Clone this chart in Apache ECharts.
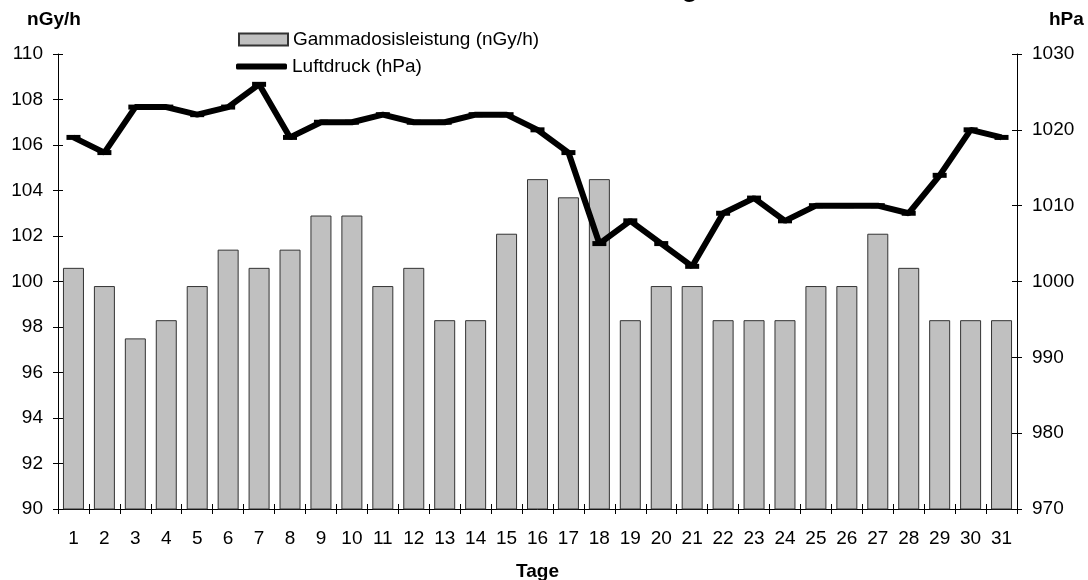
<!DOCTYPE html>
<html>
<head>
<meta charset="utf-8">
<script src="https://cdn.jsdelivr.net/npm/echarts@6/dist/echarts.min.js"></script>
<style>
  html, body { margin: 0; padding: 0; background: #fff; }
  #chart { width: 1088px; height: 580px; }
</style>
</head>
<body>
<div id="chart"></div>
<script>
const days = ['1','2','3','4','5','6','7','8','9','10','11','12','13','14','15','16',
  '17','18','19','20','21','22','23','24','25','26','27','28','29','30','31']

// nGy/h
const gamma = [100.6, 99.8, 97.5, 98.3, 99.8, 101.4, 100.6, 101.4, 102.9, 102.9, 99.8,
  100.6, 98.3, 98.3, 102.1, 104.5, 103.7, 104.5, 98.3, 99.8, 99.8, 98.3, 98.3, 98.3,
  99.8, 99.8, 102.1, 100.6, 98.3, 98.3, 98.3]

// hPa
const pressure = [1019, 1017, 1023, 1023, 1022, 1023, 1026, 1019, 1021, 1021,
  1022, 1021, 1021, 1022, 1022, 1020, 1017, 1005, 1008, 1005, 1002, 1009, 1011, 1008,
  1010, 1010, 1010, 1009, 1014, 1020, 1019]

const gammaTicks = { min: 90, max: 110, interval: 2 }
const pressureTicks = { min: 970, max: 1030, interval: 10 }

const gammaName = 'Gammadosisleistung (nGy/h)'
const pressureName = 'Luftdruck (hPa)'

const font = 'Liberation Sans, Arial, sans-serif'
const labelStyle = { fontFamily: font, fontSize: 19, color: '#000' }
const nameStyle = { fontFamily: font, fontSize: 19, fontWeight: 'bold', color: '#000' }

const chart = echarts.init(document.getElementById('chart'))

// second copy of each axis only draws the inner half of the crossing ticks
function innerTicks(base, pos) {
  return Object.assign({}, base, {
    position: pos,
    axisLine: { show: false },
    axisLabel: { show: false },
    axisTick: { show: true, inside: true, interval: 0, length: 5, lineStyle: { color: '#000' } },
    splitLine: { show: false },
    name: ''
  })
}

const yLeft = {
  type: 'value',
  position: 'left',
  min: gammaTicks.min, max: gammaTicks.max, interval: gammaTicks.interval,
  axisLine: { show: true, lineStyle: { color: '#000', width: 1 } },
  axisTick: { show: true, length: 5, lineStyle: { color: '#000' } },
  axisLabel: Object.assign({ margin: 15 }, labelStyle),
  splitLine: { show: false },
  name: 'nGy/h',
  nameLocation: 'end',
  nameGap: 25,
  nameTextStyle: Object.assign({ align: 'center', padding: [0, 8, 0, 0] }, nameStyle)
}
const yRight = {
  type: 'value',
  position: 'right',
  min: pressureTicks.min, max: pressureTicks.max, interval: pressureTicks.interval,
  axisLine: { show: true, lineStyle: { color: '#000', width: 1 } },
  axisTick: { show: true, length: 5, lineStyle: { color: '#000' } },
  axisLabel: Object.assign({ margin: 15, formatter: v => String(v) }, labelStyle),
  splitLine: { show: false },
  name: 'hPa',
  nameLocation: 'end',
  nameGap: 25,
  nameTextStyle: Object.assign({ align: 'left', padding: [0, 0, 0, 32] }, nameStyle)
}
const xBottom = {
  type: 'category',
  position: 'bottom',
  data: days,
  axisLine: { show: true, lineStyle: { color: '#000', width: 1 } },
  axisTick: { show: true, interval: 0, length: 5, lineStyle: { color: '#000' } },
  axisLabel: Object.assign({ interval: 0, margin: 20 }, labelStyle),
  name: 'Tage',
  nameLocation: 'middle',
  nameGap: 53,
  nameTextStyle: nameStyle
}

chart.setOption({
  backgroundColor: '#fff',
  animation: false,
  title: {
    text: 'Messung ODL und Luftdruck',
    left: 585,
    top: -23,
    padding: 0,
    textStyle: { fontFamily: font, fontSize: 26, fontWeight: 'bold', color: '#000' }
  },
  legend: [
    {
      data: [gammaName],
      left: 233, top: 25,
      icon: 'rect',
      itemWidth: 49, itemHeight: 12,
      textStyle: labelStyle
    },
    {
      data: [{ name: pressureName, icon: 'roundRect' }],
      left: 231, top: 52,
      itemWidth: 51, itemHeight: 6,
      textStyle: labelStyle
    }
  ],
  grid: { left: 58, right: 71, top: 54, bottom: 71, outerBoundsMode: 'none' },
  xAxis: [xBottom, innerTicks(xBottom, 'bottom')],
  yAxis: [yLeft, yRight, innerTicks(yLeft, 'left'), innerTicks(yRight, 'right')],
  series: [
    {
      name: gammaName,
      type: 'bar',
      data: gamma,
      barWidth: 21,
      itemStyle: { color: '#c0c0c0', borderColor: '#333', borderWidth: 1 }
    },
    {
      name: pressureName,
      type: 'line',
      yAxisIndex: 1,
      data: pressure,
      symbol: 'rect',
      symbolSize: [14, 5],
      showSymbol: true,
      itemStyle: { color: '#000' },
      lineStyle: { color: '#000', width: 6 }
    }
  ]
})
</script>
</body>
</html>
